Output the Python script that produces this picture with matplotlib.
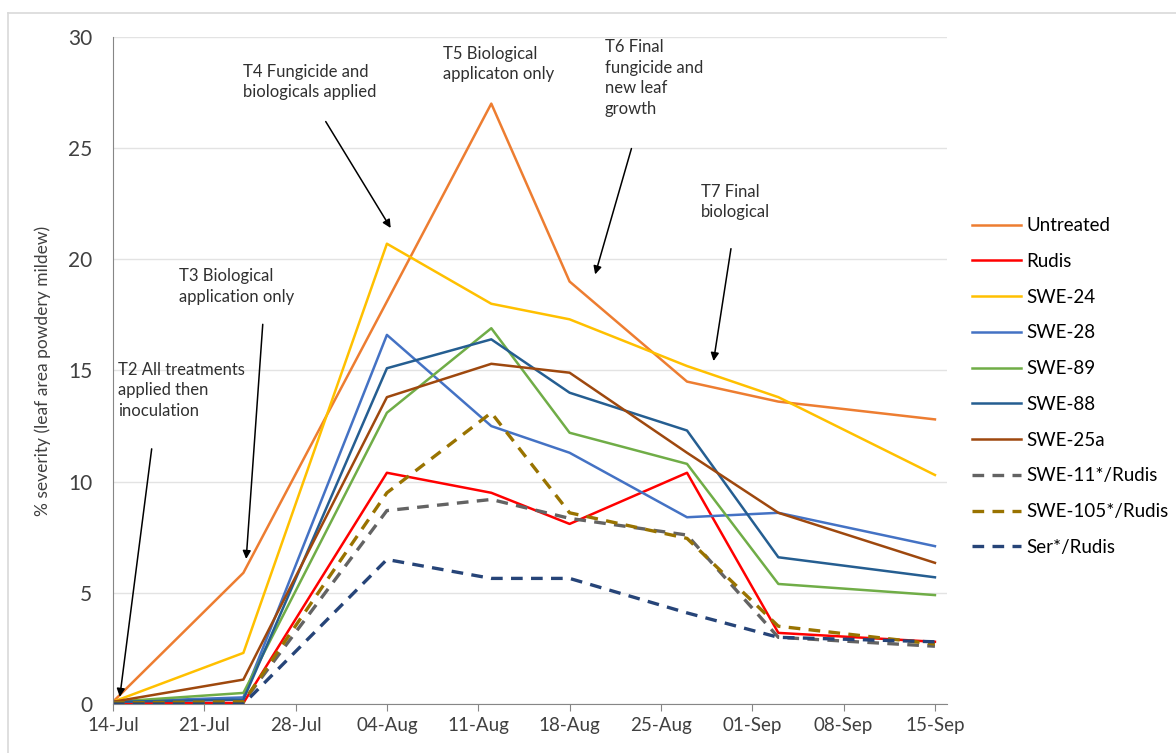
import pandas as pd
import matplotlib.pyplot as plt
import matplotlib.dates as mdates
from matplotlib.lines import Line2D

plt.rcParams['font.family'] = ['Lato', 'DejaVu Sans']

# fechas de muestreo
fechas = pd.to_datetime(['2015-07-14', '2015-07-24', '2015-08-04', '2015-08-12',
                         '2015-08-18', '2015-08-27', '2015-09-03', '2015-09-15'])

untreated = [0.1, 5.9, 18.1, 27.0, 19.0, 14.5, 13.6, 12.8]
rudis = [0.05, 0.05, 10.4, 9.5, 8.1, 10.4, 3.2, 2.8]
swe24 = [0.1, 2.3, 20.7, 18.0, 17.3, 15.2, 13.8, 10.3]
swe28 = [0.1, 0.3, 16.6, 12.5, 11.3, 8.4, 8.6, 7.1]
swe89 = [0.1, 0.5, 13.1, 16.9, 12.2, 10.8, 5.4, 4.9]
swe88 = [0.1, 0.2, 15.1, 16.4, 14.0, 12.3, 6.6, 5.7]
swe25a = [0.1, 1.1, 13.8, 15.3, 14.9, 11.3, 8.6, 6.35]
swe11 = [0.05, 0.1, 8.7, 9.2, 8.35, 7.6, 3.0, 2.6]
swe105 = [0.05, 0.1, 9.5, 13.1, 8.6, 7.45, 3.5, 2.7]
ser = [0.0, 0.0, 6.5, 5.65, 5.65, 4.1, 3.0, 2.8]

series = [
    ('Untreated', untreated, '#ED7D31', '-'),
    ('Rudis', rudis, '#FF0000', '-'),
    ('SWE-24', swe24, '#FFC000', '-'),
    ('SWE-28', swe28, '#4472C4', '-'),
    ('SWE-89', swe89, '#70AD47', '-'),
    ('SWE-88', swe88, '#255E91', '-'),
    ('SWE-25a', swe25a, '#9E480E', '-'),
    ('SWE-11*/Rudis', swe11, '#636363', '--'),
    ('SWE-105*/Rudis', swe105, '#997300', '--'),
    ('Ser*/Rudis', ser, '#264478', '--'),
]

fig = plt.figure(figsize=(11.76, 7.53), dpi=100)
ax = fig.add_axes([0.096, 0.065, 0.709, 0.886])

# borde gris claro del area del grafico
fig.add_artist(Line2D([0.007, 1.0], [0.983, 0.983], color='#D9D9D9', linewidth=1.2))
fig.add_artist(Line2D([0.007, 0.007], [0.0, 0.983], color='#D9D9D9', linewidth=1.2))

for nombre, valores, color, estilo in series:
    if estilo == '--':
        ax.plot(fechas, valores, color=color, linestyle=(0, (3.5, 2.5)), linewidth=2.4, label=nombre)
    else:
        ax.plot(fechas, valores, color=color, linewidth=1.8, label=nombre)

inicio = pd.Timestamp('2015-07-14')
ax.set_xlim(inicio, pd.Timestamp('2015-09-15') + pd.Timedelta(days=0.9))
ax.set_ylim(0, 30)
ax.set_yticks(range(0, 31, 5))
ax.set_xticks(pd.date_range('2015-07-14', '2015-09-15', freq='7D'))
ax.xaxis.set_major_formatter(mdates.DateFormatter('%d-%b'))

ax.grid(axis='y', color='#E3E3E3', linewidth=1)
ax.set_axisbelow(True)
for lado in ['top', 'right']:
    ax.spines[lado].set_visible(False)
ax.spines['left'].set_color('#868686')
ax.spines['bottom'].set_color('#868686')
ax.tick_params(axis='y', length=0, labelsize=15, colors='#404040', pad=15)
ax.tick_params(axis='x', length=5, direction='out', color='#868686', labelsize=13.5, colors='#404040', pad=4)
ax.set_ylabel('% severity (leaf area powdery mildew)', fontsize=12.5, color='#404040', labelpad=12)

ax.legend(loc='upper left', bbox_to_anchor=(1.01, 0.755), frameon=False, fontsize=13.5,
          handlelength=2.6, labelspacing=1.0, handletextpad=0.3)

# anotaciones de los tratamientos
def dia(d):
    return inicio + pd.Timedelta(days=d)

flecha = dict(arrowstyle='-|>', color='black', linewidth=1.1, mutation_scale=12)
txt = dict(fontsize=12, color='#303030', va='top', ha='left', linespacing=1.35)

ax.text(dia(0.4), 15.4, 'T2 All treatments\napplied then\ninoculation', **txt)
ax.annotate('', xy=(dia(0.5), 0.2), xytext=(dia(3.0), 11.6), arrowprops=flecha)

ax.text(dia(5.1), 19.6, 'T3 Biological\napplication only', **txt)
ax.annotate('', xy=(dia(10.2), 6.4), xytext=(dia(11.5), 17.2), arrowprops=flecha)

ax.text(dia(10.0), 28.8, 'T4 Fungicide and\nbiologicals applied', **txt)
ax.annotate('', xy=(dia(21.4), 21.3), xytext=(dia(16.2), 26.3), arrowprops=flecha)

ax.text(dia(25.3), 29.6, 'T5 Biological\napplicaton only', **txt)

ax.text(dia(37.7), 29.9, 'T6 Final\nfungicide and\nnew leaf\ngrowth', **txt)
ax.annotate('', xy=(dia(36.9), 19.2), xytext=(dia(39.8), 25.1), arrowprops=flecha)

ax.text(dia(45.1), 23.4, 'T7 Final\nbiological', **txt)
ax.annotate('', xy=(dia(46.0), 15.3), xytext=(dia(47.4), 20.6), arrowprops=flecha)

plt.savefig('out.png', dpi=100)
